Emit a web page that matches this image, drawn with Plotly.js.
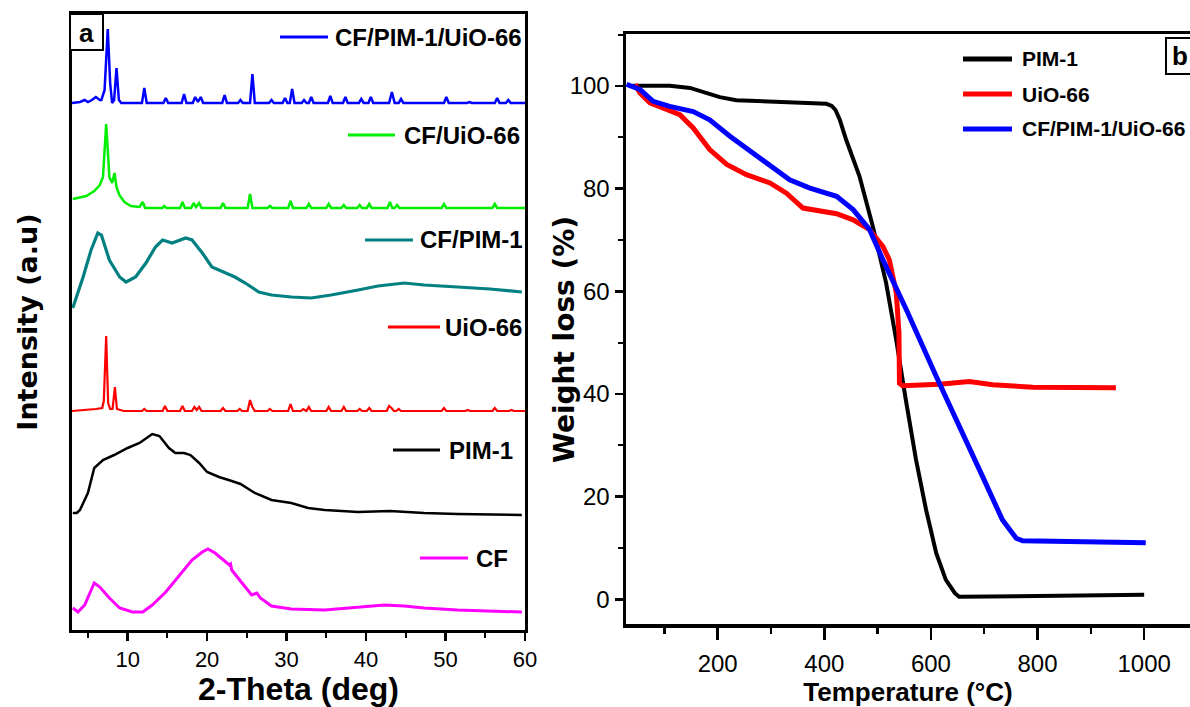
<!DOCTYPE html>
<html><head><meta charset="utf-8">
<script src="https://cdn.plot.ly/plotly-3.0.1.min.js"></script>
<style>html,body{margin:0;padding:0;background:#fff}#chart{width:1190px;height:707px}</style>
</head><body><div id="chart"></div>
<script>
// ---------- Panel a : XRD (intensity above each pattern's own baseline) ----------
const cf_x = [3.1,3.75,4.6,5.8,6.5,7.7,9,10.6,11.9,13.1,14.8,16.5,18.1,19.4,20.1,21,22.3,22.8,22.95,23.1,24.4,25.6,26.25,26.7,28.1,30.6,34.8,39,42.3,44.8,47.3,51.5,59.6];
const cf_y = [4,0,7,29,25,14,4,0,0,7,20,37,52,60,63,59,50,47,48,42,29,17,19,14,6,3,2,5,7,6,4,2,0];

const pim_x = [3.1,3.6,4,5,5.8,6.9,8.3,10,11.5,13.1,14,15.2,16,17.1,17.9,19,20,21.5,23.1,24.2,26,28.1,30.6,32.7,34.8,39,43,47.3,51.5,59.6];
const pim_y = [2,2,5,22,47,55,60,67,72,81,79,67,62,62,60,52,43,38,34,31,22,15,12,7,5,3,4,2,1,0];

const uio_x = [3,5,6,6.8,7.0,7.3,7.55,7.8,8.1,8.4,8.65,9.5,11.8,12.1,12.4,14.4,14.7,15.0,16.6,16.9,17.2,18.1,18.4,18.7,19.0,19.3,21.7,22.0,22.3,23.8,24.1,24.4,25.1,25.4,25.7,26.0,27.6,27.9,28.2,30.2,30.5,30.8,31.8,32.1,32.4,32.5,32.8,33.1,35.0,35.3,35.6,36.9,37.2,37.5,38.9,39.2,39.5,40.1,40.4,40.7,42.6,42.9,43.2,43.5,43.8,44.1,44.4,49.5,49.8,50.1,52.5,52.8,53.1,55.9,56.2,56.5,58,58.3,58.6,60];
const uio_y = [0,1,2,3,10,75,8,2,2,24,2,0,0,2,0,0,5,0,0,5,0,0,4,1,4,0,0,3,0,0,2,0,0,11,4,0,0,2,0,0,7,0,0,2,0,0,4,0,0,4,0,0,4,0,0,2,0,0,3,0,0,5,3,0,0,2,0,0,3,0,0,1,0,0,3,0,0,1,0,0];

const cfpim_x = [3.1,4.4,5.4,6.25,6.7,7.7,9,9.8,11,12.3,13.5,14.4,15.6,17.3,18.1,19.4,20.6,22.3,23.5,24.8,26.5,28.1,30.6,33.1,35.6,39,41.5,44.8,47.3,51.5,55.6,59.6];
const cfpim_y = [0,31,58,75,73,48,31,26,31,45,61,68,65,70,68,55,41,35,31,25,16,13,11,10,13,18,22,25,23,21,19,16];

const cfuio_x = [3.1,4.8,5.8,6.5,6.9,7.1,7.3,7.5,7.7,8.05,8.35,8.6,8.95,9.6,10.4,11.5,11.9,12.2,14.4,14.6,14.9,16.6,16.9,17.2,18.0,18.3,18.6,19.0,19.3,21.7,22.0,22.3,25.1,25.4,25.7,27.6,27.9,28.2,30.2,30.5,30.8,32.5,32.8,33.1,35.0,35.3,35.6,36.9,37.2,37.5,38.9,39.2,39.5,40.1,40.4,40.7,42.7,43.0,43.3,43.6,43.9,44.2,49.5,49.8,50.1,55.9,56.2,56.5,60];
const cfuio_y = [9,12,17,23,31,55,84,58,31,25,35,21,13,6,2,1,6,0,0,2,0,0,6,0,0,5,1,5,0,0,5,0,0,14,0,0,2,0,0,7,0,0,4,0,0,4,0,0,3,0,0,3,0,0,4,0,0,6,0,0,3,0,0,4,0,0,4,0,0];

const all_x = [3.0,4.0,4.6,5.0,5.5,6.0,6.5,6.7,7.1,7.5,7.8,8.05,8.3,8.6,8.9,9.2,11.8,12.1,12.4,14.5,14.8,15.1,16.8,17.1,17.4,18.2,18.5,18.85,19.2,19.5,21.9,22.2,22.5,23.9,24.2,24.5,25.4,25.7,26.0,27.8,28.1,28.4,29.5,29.8,30.1,30.4,30.7,31.0,31.9,32.2,32.5,32.8,33.1,33.4,35.2,35.5,35.8,37.1,37.4,37.7,39.1,39.4,39.7,40.3,40.6,40.9,42.9,43.25,43.6,44.1,44.4,44.7,49.8,50.1,50.4,52.7,53.0,53.3,56.2,56.5,56.8,57.6,57.9,58.2,60];
const all_y = [0,1,3,1,3,6,3,3,13,74,20,0,3,35,3,0,0,15,0,0,5,0,0,9,0,0,6,1,6,0,0,8,0,0,3,0,0,29,0,0,3,0,0,5,0,0,14,0,0,3,0,0,6,0,0,7,0,0,6,0,0,4,0,0,6,0,0,11,0,0,4,0,0,6,0,0,1,0,0,5,0,0,3,0,0];

const xrdNames = ['CF','PIM-1','UiO-66','CF/PIM-1','CF/UiO-66','CF/PIM-1/UiO-66'];

// ---------- Panel b : TGA ----------
const tPim = [40,110,148,179,204,235,298,360,404,414,421,429,441,466,491,516,535,553,572,591,610,628,645,653,760,884,1000];
const wPim = [100,100,99.6,98.6,97.8,97.2,97,96.8,96.5,96.1,95.3,93.4,89.5,82.4,72.6,61.6,50.5,38.8,27.2,17.4,9,3.8,1.2,0.5,0.6,0.8,0.9];
const tUio = [45,54,73,98,129,154,185,217,254,298,329,360,391,423,454,485,510,522,535,540,541,547,616,672,716,791,947];
const wUio = [100.3,98.6,96.7,95.7,94.4,91.8,87.6,84.7,82.7,81.1,79.1,76.2,75.6,75.1,73.9,72,68.7,66.1,59.7,51.9,42.1,41.6,41.9,42.4,41.8,41.3,41.2];
const tAll = [29,54,79,110,154,185,223,266,298,335,373,423,454,485,510,554,610,660,697,734,760,772,884,1003];
const wAll = [100.3,99.3,97,96,95,93.4,90.2,86.9,84.7,81.7,80.1,78.5,75.9,72,66.1,56.4,43.4,32.4,23.9,15.5,11.9,11.4,11.3,11];
const tgaNames = ['PIM-1','UiO-66','CF/PIM-1/UiO-66'];

// ---------- layout helpers (pixel -> paper) ----------
const W = 1190, H = 707;
const fx = v => v / W;
const fy = v => 1 - v / H;
const SANS = 'Liberation Sans, Arial, sans-serif';
const WIDE = 'DejaVu Sans, Liberation Sans, sans-serif';

// vertical offsets used to stack the XRD patterns
const offsets = [18, 115, 219, 322, 422, 527];
const xrdColors = ['#ff00ff', '#000000', '#ff0000', '#008080', '#00ee00', '#0000ff'];
const xrdWidths = [3, 2.5, 2.2, 3.2, 2.5, 2.5];
const xrdX = [cf_x, pim_x, uio_x, cfpim_x, cfuio_x, all_x];
const xrdY = [cf_y, pim_y, uio_y, cfpim_y, cfuio_y, all_y];

const traces = [];
for (let i = 0; i < 6; i++) {
  traces.push({
    type: 'scatter', mode: 'lines', name: xrdNames[i],
    x: xrdX[i], y: xrdY[i].map(v => v + offsets[i]),
    xaxis: 'x', yaxis: 'y', showlegend: false,
    line: {color: xrdColors[i], width: xrdWidths[i]}, hoverinfo: 'skip'
  });
}
const tgaColors = ['#000000', '#ff0000', '#0000ff'];
const tgaWidths = [4, 5, 5];
const tgaX = [tPim, tUio, tAll];
const tgaY = [wPim, wUio, wAll];
for (let i = 0; i < 3; i++) {
  traces.push({
    type: 'scatter', mode: 'lines', name: tgaNames[i],
    x: tgaX[i], y: tgaY[i], xaxis: 'x2', yaxis: 'y2', showlegend: false,
    line: {color: tgaColors[i], width: tgaWidths[i]}, hoverinfo: 'skip'
  });
}

// in-plot labels (line sample + text)
const xrdLabelPos = [ // [lineX0, lineX1, y, textX]
  [420, 468, 558, 474],
  [393, 440, 450, 447],
  [388, 440, 327, 443],
  [365, 413, 240, 418],
  [348, 395, 135, 402],
  [280, 328, 37, 333]
];
const tgaLabelPos = [[963, 1012, 59, 1020], [963, 1012, 94, 1020], [963, 1012, 129, 1020]];

const shapes = [], annotations = [];
xrdLabelPos.forEach((p, i) => {
  shapes.push({type: 'line', xref: 'paper', yref: 'paper', x0: fx(p[0]), x1: fx(p[1]), y0: fy(p[2]), y1: fy(p[2]),
    line: {color: xrdColors[i], width: 3}});
  annotations.push({xref: 'paper', yref: 'paper', x: fx(p[3]), y: fy(p[2]), xanchor: 'left', yanchor: 'middle',
    text: xrdNames[i], showarrow: false, font: {family: SANS, size: 24, color: '#000', weight: 'bold'}});
});
tgaLabelPos.forEach((p, i) => {
  shapes.push({type: 'line', xref: 'paper', yref: 'paper', x0: fx(p[0]), x1: fx(p[1]), y0: fy(p[2]), y1: fy(p[2]),
    line: {color: tgaColors[i], width: 5}});
  annotations.push({xref: 'paper', yref: 'paper', x: fx(p[3]), y: fy(p[2]), xanchor: 'left', yanchor: 'middle',
    text: tgaNames[i], showarrow: false, font: {family: SANS, size: 21, color: '#000', weight: 'bold'}});
});
// panel letter boxes
shapes.push({type: 'rect', xref: 'paper', yref: 'paper', x0: fx(70), x1: fx(103), y0: fy(50), y1: fy(14), line: {color: '#000', width: 2}, fillcolor: '#fff'});
annotations.push({xref: 'paper', yref: 'paper', x: fx(86.5), y: fy(33), xanchor: 'center', yanchor: 'middle', text: 'a', showarrow: false,
  font: {family: SANS, size: 26, color: '#000', weight: 'bold'}});
shapes.push({type: 'rect', xref: 'paper', yref: 'paper', x0: fx(1166), x1: fx(1197), y0: fy(74), y1: fy(38), line: {color: '#000', width: 2}, fillcolor: '#fff'});
annotations.push({xref: 'paper', yref: 'paper', x: fx(1180), y: fy(56), xanchor: 'center', yanchor: 'middle', text: 'b', showarrow: false,
  font: {family: SANS, size: 26, color: '#000', weight: 'bold'}});
// y title of panel b, placed where the reference shows it
annotations.push({xref: 'paper', yref: 'paper', x: fx(565), y: fy(340), xanchor: 'center', yanchor: 'middle', textangle: -90,
  text: 'Weight loss (%)', showarrow: false, font: {family: WIDE, size: 28, color: '#000', weight: 'bold'}});

const axCommon = {showgrid: false, zeroline: false, showline: true, linecolor: '#000', mirror: true, ticks: 'outside', tickcolor: '#000'};

const layout = {
  width: W, height: H, margin: {l: 0, r: 0, t: 0, b: 0}, paper_bgcolor: '#fff', plot_bgcolor: '#fff',
  showlegend: false, font: {family: SANS, color: '#000'},
  xaxis: Object.assign({}, axCommon, {
    domain: [fx(72), fx(525)], anchor: 'y', range: [3, 60], linewidth: 3,
    tick0: 0, dtick: 10, ticklen: 8, tickwidth: 2.5,
    minor: {dtick: 5, tick0: 0, ticklen: 5, tickwidth: 2, ticks: 'outside', tickcolor: '#000'},
    tickfont: {family: SANS, size: 22, color: '#000'},
    title: {text: '2-Theta (deg)', font: {family: SANS, size: 32, color: '#000', weight: 'bold'}, standoff: 4}
  }),
  yaxis: Object.assign({}, axCommon, {
    domain: [fy(630), fy(14)], anchor: 'x', range: [0, 616], linewidth: 3,
    ticks: '', showticklabels: false,
    title: {text: 'Intensity (a.u)', font: {family: WIDE, size: 27, color: '#000', weight: 'bold'}, standoff: 24}
  }),
  xaxis2: Object.assign({}, axCommon, {
    domain: [fx(626), 1], anchor: 'y2', range: [28, 1086], linewidth: 3.5,
    tick0: 0, dtick: 200, ticklen: 12, tickwidth: 2.5,
    minor: {dtick: 100, tick0: 0, ticklen: 6, tickwidth: 2.5, ticks: 'outside', tickcolor: '#000'},
    tickfont: {family: SANS, size: 24, color: '#000'}, ticklabelstandoff: 4,
    title: {text: 'Temperature (\u00B0C)', font: {family: SANS, size: 26, color: '#000', weight: 'bold'}, standoff: 3}
  }),
  yaxis2: Object.assign({}, axCommon, {
    domain: [fy(624), fy(34)], anchor: 'x2', range: [-4.8, 110.1], linewidth: 3.5,
    tick0: 0, dtick: 20, ticklen: 8, tickwidth: 2.5,
    minor: {dtick: 10, tick0: 0, ticklen: 5, tickwidth: 2, ticks: 'outside', tickcolor: '#000'},
    tickfont: {family: SANS, size: 24, color: '#000'}
  }),
  shapes: shapes, annotations: annotations
};

Plotly.newPlot('chart', traces, layout, {staticPlot: true, displayModeBar: false});
</script>
</body></html>
